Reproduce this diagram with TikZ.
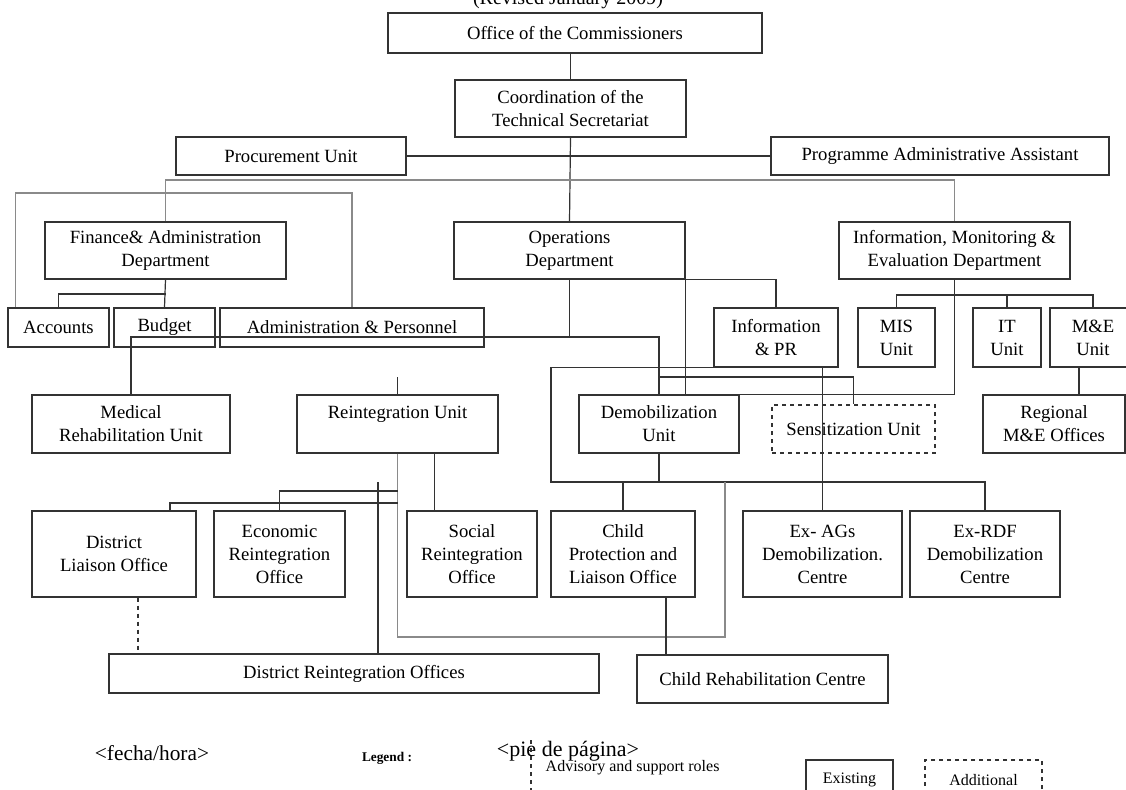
\documentclass[tikz,border=0pt]{standalone}
\usepackage{fontspec}
\setmainfont{Liberation Serif}
\usepackage{xcolor}
\definecolor{OrgLine}{HTML}{333333}
\definecolor{OrgFaint}{HTML}{8A8A8A}
\tikzset{
    % Box styles - plain outlines
    unitbox/.style={
        rectangle,
        draw=OrgLine,
        line width=1pt,
        inner sep=0pt,
        align=center,
        font=\fontsize{14}{17.25}\selectfont
    },
    plannedbox/.style={
        unitbox,
        dashed
    },
    % Line styles - straight, no tips
    link/.style={
        draw=OrgLine,
        line width=0.9pt
    },
    faintlink/.style={
        draw=OrgFaint,
        line width=1.2pt
    },
    advisory/.style={
        link,
        dashed
    }
}

\begin{document}
\begin{tikzpicture}[x=0.75pt, y=-0.75pt]
    \useasboundingbox (0,0) rectangle (1126,789);
    \clip (0,0) rectangle (1126,789);

    % Title (cut at the top)
    \node[font=\fontsize{15}{18}\selectfont, anchor=base] (title) at (568,4.5) {(Revised January 2009)};

    % Top level
    \node[unitbox, minimum width=280.5pt, minimum height=30pt] (off) at (575,33) {Office of the Commissioners};
    \node[unitbox, minimum width=173.25pt, minimum height=42.75pt] (coord) at (570.5,108.5) {Coordination of the\\Technical Secretariat};
    \node[unitbox, minimum width=172.5pt, minimum height=28.5pt] (proc) at (291,156) {Procurement Unit};
    \node[unitbox, minimum width=253.5pt, minimum height=28.5pt] (paa) at (940,156) {Programme Administrative Assistant};

    % Departments
    \node[unitbox, minimum width=180.75pt, minimum height=42.75pt] (fin) at (165.5,250.5) {Finance\& Administration\\Department};
    \node[unitbox, minimum width=173.25pt, minimum height=42.75pt] (ops) at (569.5,250.5) {Operations\\Department};
    \node[unitbox, minimum width=173.25pt, minimum height=42.75pt] (ime) at (954.5,250.5) {Information, Monitoring \&\\Evaluation Department};

    % Sections
    \node[unitbox, minimum width=75.75pt, minimum height=29.25pt] (acc) at (58.5,327.5) {Accounts};
    \node[unitbox, minimum width=75.75pt, minimum height=29.25pt] (bud) at (164.5,327.5) {Budget};
    \node[unitbox, minimum width=198pt, minimum height=29.25pt] (adm) at (352,327.5) {Administration \& Personnel};
    \node[unitbox, minimum width=93pt, minimum height=44.25pt] (ipr) at (776,337.5) {Information\\\& PR};
    \node[unitbox, minimum width=57.75pt, minimum height=44.25pt] (mis) at (896.5,337.5) {MIS\\Unit};
    \node[unitbox, minimum width=51pt, minimum height=44.25pt] (it) at (1007,337.5) {IT\\Unit};
    \node[unitbox, minimum width=64.5pt, minimum height=44.25pt] (mne) at (1093,337.5) {M\&E\\Unit};

    % Units
    \node[unitbox, minimum width=148.5pt, minimum height=43.5pt] (med) at (131,424) {Medical\\Rehabilitation Unit};
    \node[unitbox, minimum width=150.75pt, minimum height=43.5pt] (reint) at (397.5,424) {Reintegration Unit\\~};
    \node[unitbox, minimum width=120pt, minimum height=43.5pt] (demob) at (659,424) {Demobilization\\Unit};
    \node[plannedbox, minimum width=122.25pt, minimum height=36pt] (sens) at (853.5,429) {Sensitization Unit};
    \node[unitbox, minimum width=106.5pt, minimum height=43.5pt] (reg) at (1054,424) {Regional\\M\&E Offices};

    % Offices and centres
    \node[unitbox, minimum width=123pt, minimum height=64.5pt] (dlo) at (114,554) {District\\Liaison Office};
    \node[unitbox, minimum width=98.25pt, minimum height=64.5pt] (eco) at (279.5,554) {Economic\\Reintegration\\Office};
    \node[unitbox, minimum width=97.5pt, minimum height=64.5pt] (soc) at (472,554) {Social\\Reintegration\\Office};
    \node[unitbox, minimum width=108pt, minimum height=64.5pt] (cpl) at (623,554) {Child\\Protection and\\Liaison Office};
    \node[unitbox, minimum width=119.25pt, minimum height=64.5pt] (exag) at (822.5,554) {Ex- AGs\\Demobilization.\\Centre};
    \node[unitbox, minimum width=112.5pt, minimum height=64.5pt] (exrdf) at (985,554) {Ex-RDF\\Demobilization\\Centre};
    \node[unitbox, minimum width=367.5pt, minimum height=29.25pt] (dro) at (354,673.5) {District Reintegration Offices};
    \node[unitbox, minimum width=188.25pt, minimum height=36pt] (crc) at (762.5,679) {Child Rehabilitation Centre};

    % Junction levels
    \coordinate (topbus) at (0,180);
    \coordinate (framebus) at (0,193);
    \coordinate (finbus) at (0,294);
    \coordinate (misbus) at (0,295);
    \coordinate (opsbus) at (0,337);
    \coordinate (sensbus) at (0,377);
    \coordinate (econbus) at (0,491);
    \coordinate (dlobus) at (0,503);
    \coordinate (reintbus) at (0,637);
    \coordinate (loopL) at (551,482);
    \coordinate (loopR) at (725,482);
    \coordinate (reintstub) at (397.5,377);
    \coordinate (drostub) at (378,482);

    % Lines
    \draw[link] (coord.north) -- (coord.north |- off.south);
    \draw[link] (coord.south) -- (ops.north);
    \draw[link] (proc.east) -- (paa.west);
    \draw[faintlink] (fin.north) -- (fin.north |- topbus) -- (ime.north |- topbus) -- (ime.north);
    \draw[faintlink] ([xshift=6pt]acc.north west) -- ([xshift=6pt]acc.north west |- framebus) -- (adm.north |- framebus) -- (adm.north);
    \draw[link] (fin.south) -- (bud.north);
    \draw[link] (fin.south |- finbus) -| (acc.north);
    \draw[link] (med.north) |- (demob.north |- opsbus) -- (demob.north);
    \draw[link] (ops.south) -- (ops.south |- opsbus);
    \draw[link] (ops.south east) -- (ops.south east |- demob.north);
    \draw[link] (ops.south east) -| (ipr.north);
    \draw[link] (demob.north |- sensbus) -| (sens.north);
    \draw[link] (ime.south) |- (demob.north east);
    \draw[link] (mis.north) |- (mne.north |- misbus) -- (mne.north);
    \draw[link] (it.north) -- (it.north |- misbus);
    \draw[link] ([xshift=-10.5pt]mne.south) -- ([xshift=-10.5pt]mne.south |- reg.north);
    \draw[link] (ipr.south west) -| (loopL) -| (exrdf.north);
    \draw[link] (exag.north |- ipr.south) -- (exag.north);
    \draw[link] (demob.south) -- (demob.south |- loopL);
    \draw[link] (cpl.north) -- (cpl.north |- loopL);
    \draw[faintlink] (reint.south) |- (loopR |- reintbus) -- (loopR);
    \draw[link] ([xshift=28pt]reint.south) -- ([xshift=28pt]reint.south |- soc.north);
    \draw[link] (reint.south |- econbus) -| (eco.north);
    \draw[link] (reint.south |- dlobus) -| ([xshift=42pt]dlo.north);
    \draw[link] (drostub) -- (drostub |- dro.north);
    \draw[link] (reintstub) -- (reint.north);
    \draw[advisory] ([xshift=18pt]dlo.south) -- ([xshift=18pt]dlo.south |- dro.north);
    \draw[link] ([xshift=32.25pt]cpl.south) -- ([xshift=32.25pt]cpl.south |- crc.north);

    % Footer and legend
    \node[font=\fontsize{16}{18}\selectfont] (date) at (152,753) {<fecha/hora>};
    \node[font=\bfseries\fontsize{10}{12}\selectfont] (legend) at (387,758) {Legend :};
    \node[font=\fontsize{16.5}{18}\selectfont] (footer) at (568,751) {<pie de página>};
    \coordinate (legtop) at (531,740);
    \coordinate (legbot) at (531,795);
    \draw[advisory] (legtop) -- (legbot);
    \node[font=\fontsize{12}{14}\selectfont, anchor=west] (advnote) at (541,768) {Advisory and support roles};
    \node[unitbox, font=\fontsize{12}{14}\selectfont, minimum width=65.25pt, minimum height=30pt] (exist) at (849.5,780) {Existing};
    \node[plannedbox, font=\fontsize{12}{14}\selectfont, minimum width=87.75pt, minimum height=30pt] (addl) at (983.5,780) {Additional};
\end{tikzpicture}
\end{document}
